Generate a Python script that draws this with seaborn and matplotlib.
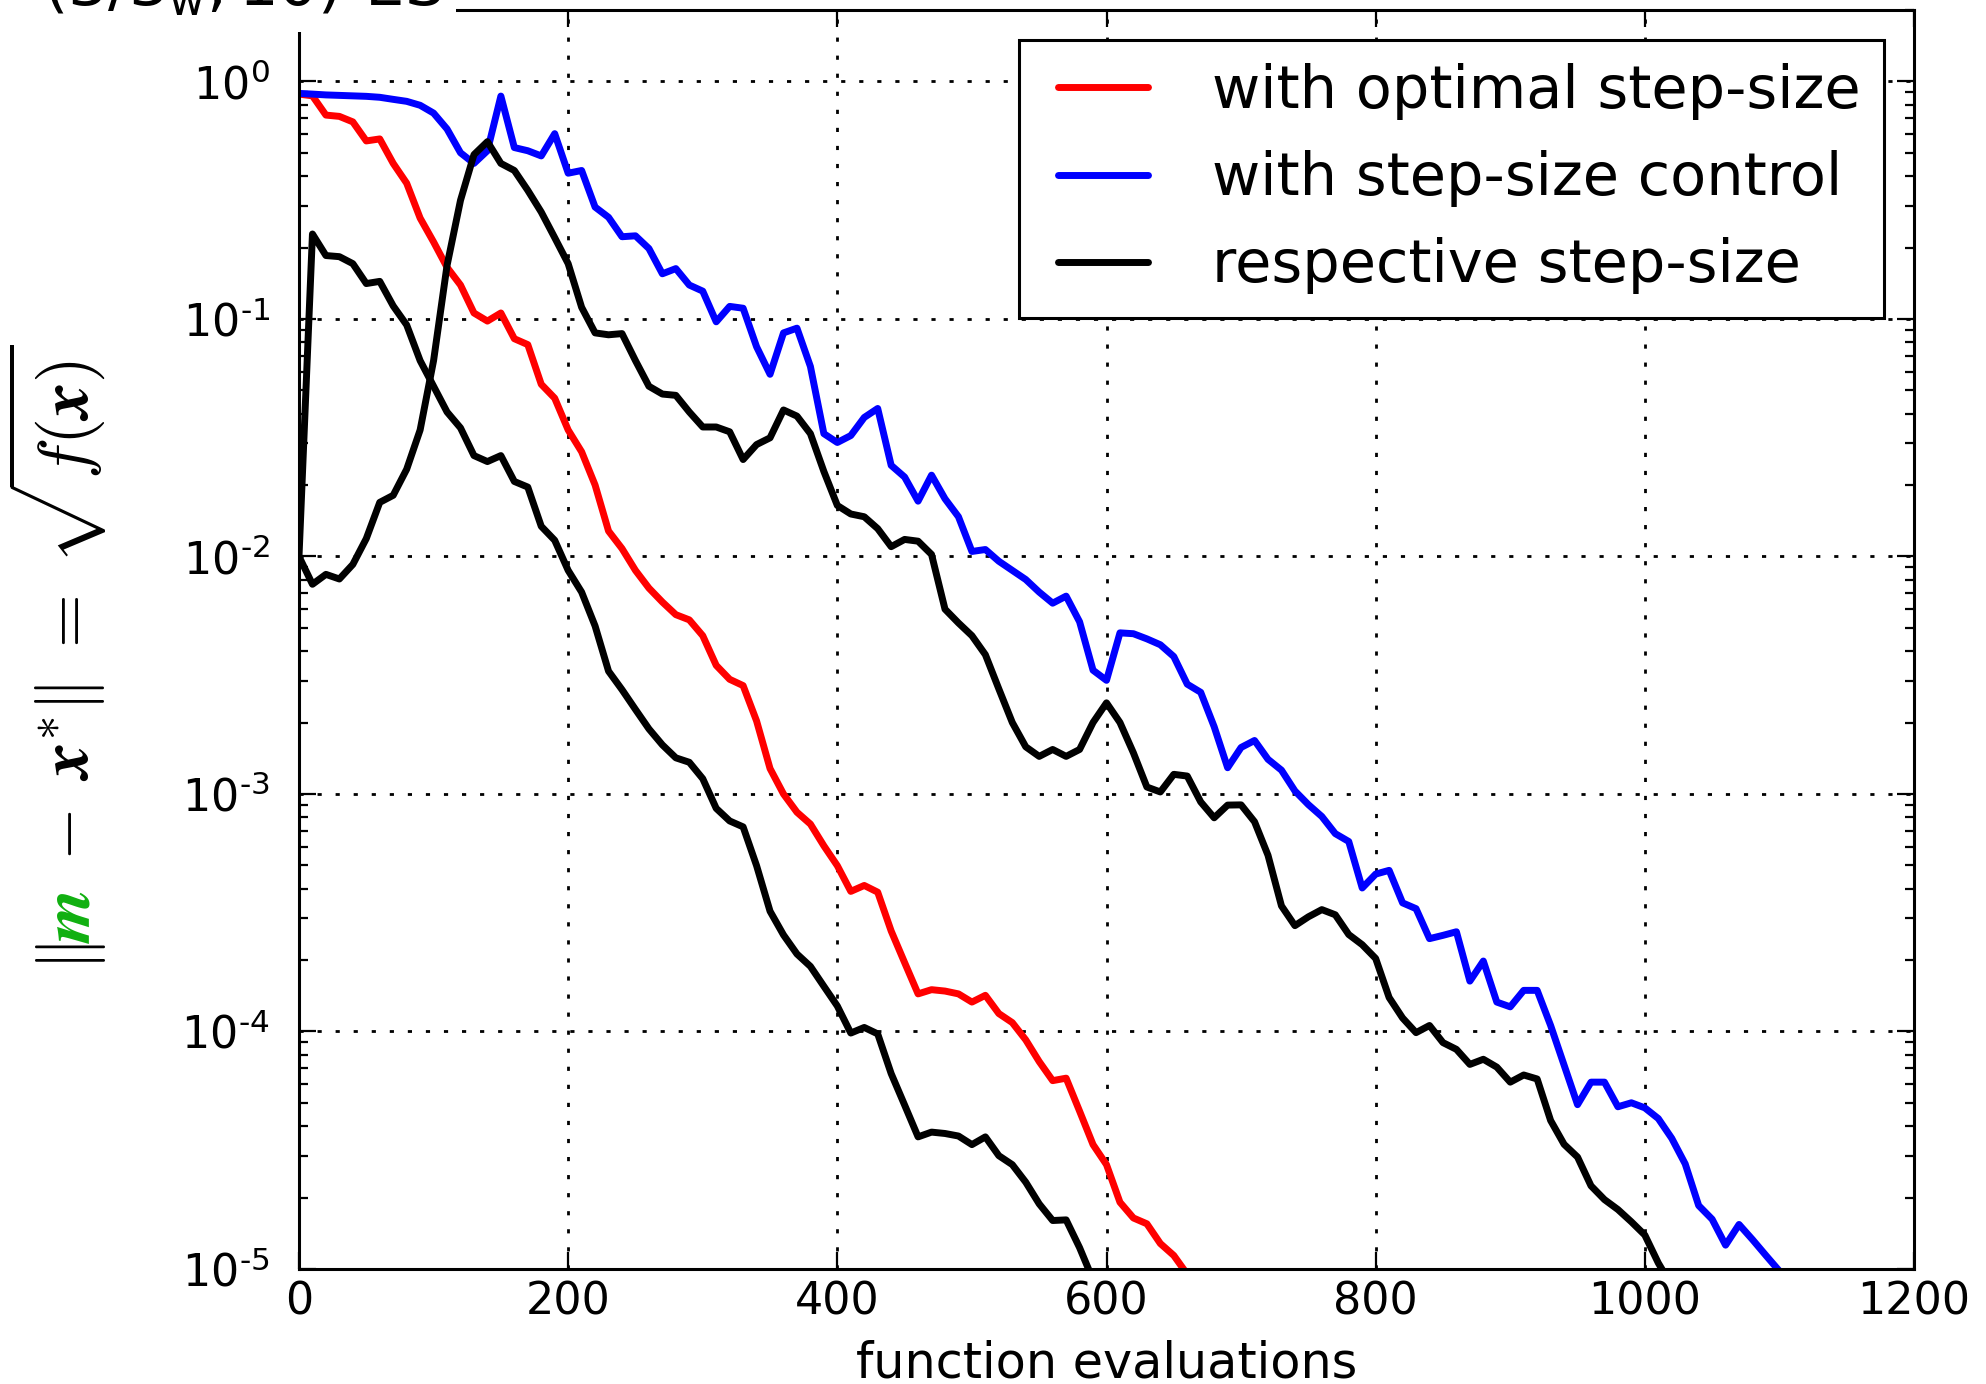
import numpy as np
import pandas as pd
import seaborn as sns
import matplotlib
matplotlib.use("Agg")
import matplotlib.pyplot as plt
from matplotlib.ticker import LogLocator, FuncFormatter, NullFormatter, NullLocator, FixedLocator
from matplotlib.lines import Line2D
from matplotlib.legend_handler import HandlerLine2D
from matplotlib.mathtext import MathTextParser

# ---------------- data ----------------
evals = [0, 10, 20, 30, 40, 50, 60, 70, 80, 90, 100, 110, 120, 130, 140, 150, 160, 170, 180, 190,
         200, 210, 220, 230, 240, 250, 260, 270, 280, 290, 300, 310, 320, 330, 340, 350, 360, 370, 380, 390,
         400, 410, 420, 430, 440, 450, 460, 470, 480, 490, 500, 510, 520, 530, 540, 550, 560, 570, 580, 590,
         600, 610, 620, 630, 640, 650, 660, 670, 680, 690, 700, 710, 720, 730, 740, 750, 760, 770, 780, 790,
         800, 810, 820, 830, 840, 850, 860, 870, 880, 890, 900, 910, 920, 930, 940, 950, 960, 970, 980, 990,
         1000, 1010, 1020, 1030, 1040, 1050, 1060, 1070, 1080, 1090, 1100]

optimal_dist = [0.885, 0.87, 0.722, 0.713, 0.676, 0.562, 0.573, 0.452, 0.373, 0.266,
                0.211, 0.165, 0.139, 0.106, 0.098, 0.106, 0.0826, 0.078, 0.0531, 0.0464,
                0.0341, 0.0276, 0.0200, 0.0128, 0.0108, 0.00874, 0.00736, 0.00643, 0.00569, 0.00541,
                0.00464, 0.00348, 0.00304, 0.00286, 0.00203, 0.00128, 0.00100, 0.000838, 0.000747, 0.000605,
                0.000499, 0.000389, 0.000412, 0.000386, 0.000265, 0.000195, 0.000144, 0.000150, 0.000148, 0.000144,
                0.000133, 0.000142, 0.000119, 0.000109, 9.22e-5, 7.47e-5, 6.21e-5, 6.36e-5, 4.62e-5, 3.34e-5,
                2.75e-5, 1.91e-5, 1.64e-5, 1.55e-5, 1.28e-5, 1.14e-5, 9.5e-6]

optimal_sigma = [0.01, 0.228, 0.185, 0.183, 0.171, 0.141, 0.144, 0.1135, 0.0944, 0.0668,
                 0.0521, 0.0406, 0.0348, 0.0266, 0.0251, 0.0266, 0.0207, 0.0196, 0.0134, 0.0117,
                 0.00874, 0.00708, 0.0051, 0.00329, 0.00275, 0.00227, 0.00188, 0.00161, 0.00142, 0.00136,
                 0.00116, 0.00087, 0.00077, 0.000727, 0.000499, 0.000321, 0.000255, 0.000212, 0.000188, 0.000155,
                 0.000128, 9.85e-5, 0.000104, 9.77e-5, 6.65e-5, 4.9e-5, 3.6e-5, 3.77e-5, 3.72e-5, 3.63e-5,
                 3.34e-5, 3.6e-5, 3.0e-5, 2.75e-5, 2.32e-5, 1.88e-5, 1.6e-5, 1.61e-5, 1.23e-5, 9.0e-6]

control_dist = [0.891, 0.885, 0.878, 0.874, 0.870, 0.866, 0.858, 0.841, 0.825, 0.794,
                0.736, 0.631, 0.501, 0.452, 0.511, 0.868, 0.527, 0.511, 0.486, 0.603,
                0.411, 0.422, 0.296, 0.268, 0.222, 0.224, 0.198, 0.155, 0.163, 0.139,
                0.131, 0.0973, 0.113, 0.111, 0.0764, 0.0585, 0.0874, 0.0915, 0.0631, 0.0329,
                0.0302, 0.0323, 0.0385, 0.042, 0.0242, 0.0216, 0.0171, 0.022, 0.0175, 0.0147,
                0.0105, 0.0107, 0.00955, 0.00874, 0.0080, 0.00708, 0.00636, 0.00681, 0.00531, 0.00332,
                0.00301, 0.00477, 0.00473, 0.0045, 0.00425, 0.00379, 0.0029, 0.00268, 0.00192, 0.00129,
                0.00157, 0.00168, 0.0014, 0.00126, 0.00103, 0.000902, 0.000804, 0.000681, 0.000631, 0.000402,
                0.00046, 0.000477, 0.000348, 0.000329, 0.000246, 0.000254, 0.000263, 0.000163, 0.000198, 0.000133,
                0.000127, 0.000149, 0.000149, 0.000106, 7.22e-5, 4.92e-5, 6.12e-5, 6.12e-5, 4.82e-5, 5.01e-5,
                4.77e-5, 4.3e-5, 3.55e-5, 2.77e-5, 1.85e-5, 1.62e-5, 1.26e-5, 1.54e-5, 1.33e-5, 1.14e-5,
                9.8e-6]

control_sigma = [0.01, 0.00764, 0.00841, 0.00804, 0.00926, 0.0119, 0.0169, 0.0181, 0.0233, 0.0341,
                 0.0668, 0.168, 0.316, 0.492, 0.558, 0.452, 0.422, 0.348, 0.282, 0.22,
                 0.171, 0.112, 0.0874, 0.0858, 0.0868, 0.0668, 0.0521, 0.0483, 0.0477, 0.0406,
                 0.0351, 0.0351, 0.0335, 0.0256, 0.0296, 0.0316, 0.0414, 0.039, 0.0329, 0.0228,
                 0.0164, 0.0151, 0.0147, 0.0131, 0.011, 0.0118, 0.0116, 0.0102, 0.006, 0.00525,
                 0.00464, 0.00386, 0.00277, 0.002, 0.00158, 0.00144, 0.00154, 0.00144, 0.00154, 0.002,
                 0.00242, 0.002, 0.00149, 0.00107, 0.00102, 0.00121, 0.00119, 0.000926, 0.000794, 0.000898,
                 0.0009, 0.000764, 0.000552, 0.000338, 0.000279, 0.000304, 0.000326, 0.00031, 0.000256, 0.000232,
                 0.000203, 0.000139, 0.000114, 9.89e-5, 0.000106, 8.98e-5, 8.41e-5, 7.27e-5, 7.64e-5, 7.08e-5,
                 6.12e-5, 6.56e-5, 6.31e-5, 4.22e-5, 3.35e-5, 2.96e-5, 2.24e-5, 1.96e-5, 1.78e-5, 1.58e-5,
                 1.39e-5, 1.06e-5, 8.5e-6]

legend_labels = ["with optimal step-size", "with step-size control", "respective step-size"]
x_ticks = [0, 200, 400, 600, 800, 1000, 1200]
title_text = r"$\mathregular{(3/3_w,10)}$-ES"
xlabel_text = "function evaluations"

# ---------------- style ----------------
sns.set_style("ticks")
plt.rcParams['font.family'] = ['DejaVu Sans']
plt.rcParams['mathtext.fontset'] = 'dejavusans'
for k in ['text.color', 'axes.labelcolor', 'xtick.color', 'ytick.color', 'axes.edgecolor']:
    plt.rcParams[k] = 'black'

W, H = 1986, 1384
fig = plt.figure(figsize=(W / 100, H / 100), dpi=100)
ax = fig.add_axes([299 / W, 1 - 1269 / H, (1914 - 299) / W, (1269 - 10) / H])

series = [
    (optimal_dist, "red"),
    (control_dist, "blue"),
    (optimal_sigma, "black"),
    (control_sigma, "black"),
]
for vals, col in series:
    df = pd.DataFrame({"evals": evals[:len(vals)], "value": vals})
    sns.lineplot(data=df, x="evals", y="value", color=col, linewidth=5,
                 estimator=None, sort=False, ax=ax, legend=False)

ax.set_yscale("log")
ax.set_xlim(0, 1200)
ax.set_ylim(1e-5, 2)

ax.xaxis.set_major_locator(FixedLocator(x_ticks))
ax.xaxis.set_minor_locator(NullLocator())
ax.yaxis.set_major_locator(LogLocator(base=10, numticks=12))
ax.yaxis.set_minor_locator(LogLocator(base=10, subs=np.arange(2, 10), numticks=12))
ax.yaxis.set_minor_formatter(NullFormatter())


def math_ok(s):
    try:
        MathTextParser("agg").parse(s, dpi=72)
        return True
    except Exception:
        return False


use_hyphen = math_ok(r"$\mathregular{10^{\text{-}1}}$")


def ylab(v, pos):
    e = int(round(np.log10(v)))
    if e < 0 and use_hyphen:
        return r"$\mathregular{10^{\text{-}%d}}$" % (-e)
    return r"$\mathregular{10^{%d}}$" % e


ax.yaxis.set_major_formatter(FuncFormatter(ylab))

ax.grid(True, which="major", color="black", linestyle=(0, (1.5, 5)), linewidth=2)
ax.set_axisbelow(True)
for sp in ax.spines.values():
    sp.set_color("black")
    sp.set_linewidth(2.2)

ax.tick_params(which="both", direction="in", top=True, right=True, colors="black")
ax.tick_params(which="major", length=12, width=1.6, labelsize=32)
ax.tick_params(which="minor", length=6.5, width=1.6)
ax.tick_params(axis="x", pad=8)
ax.tick_params(axis="y", pad=21)

ax.set_ylabel("")
ax.set_xlabel(xlabel_text, fontsize=35.5, va="baseline")
ax.xaxis.set_label_coords(0.5, (1269 - 1377) / (1269 - 10))


class ShortHandler(HandlerLine2D):
    def get_xdata(self, legend, xdescent, ydescent, width, height, fontsize):
        xd, xm = super().get_xdata(legend, xdescent, ydescent, width, height, fontsize)
        return [-xdescent + 0.26 * fontsize, -xdescent + width], xm


handles = [Line2D([], [], color=c, linewidth=5) for c in ["red", "blue", "black"]]
leg = ax.legend(handles, legend_labels, loc="upper right", fontsize=42.5, frameon=True,
                fancybox=False, edgecolor="black", framealpha=1, borderaxespad=0.5,
                handlelength=1.78, handletextpad=1.09, labelspacing=0.51, borderpad=0.4,
                handler_map={Line2D: ShortHandler()})
leg.get_frame().set_linewidth(2.2)

# title (cut at the top of the figure, white box hides spine corner)
fig.text(43 / W, 1 - 5.5 / H, title_text, fontsize=45, ha="left", va="baseline",
         bbox=dict(facecolor="white", edgecolor="none", pad=10), zorder=5)

# y label with a green m
green = "#10b010"
fig.canvas.draw()
r = fig.canvas.get_renderer()


def make_parts(bold):
    return [(r"$\Vert$", "black"),
            (r"$%s{m}$" % bold, green),
            (r"$\;-\;%s{x}^{*}\Vert\;=\;\sqrt{f(%s{x})}$" % (bold, bold), "black")]


texts = []
ws = []
for bold in (r"\boldsymbol", r"\mathbf"):
    try:
        texts = []
        for s, c in make_parts(bold):
            t = fig.text(0, 0, s, fontsize=50, color=c, rotation=90, rotation_mode="anchor",
                         ha="left", va="baseline", math_fontfamily="cm")
            texts.append(t)
        ws = [t.get_window_extent(r).height for t in texts]
        break
    except Exception:
        for t in texts:
            t.remove()
        texts = []
total = sum(ws)
yc = H - 658
y = yc - total / 2
bx = 89
for t, w in zip(texts, ws):
    t.set_position((bx / W, y / H))
    y += w

fig.savefig("out.png", dpi=100)
